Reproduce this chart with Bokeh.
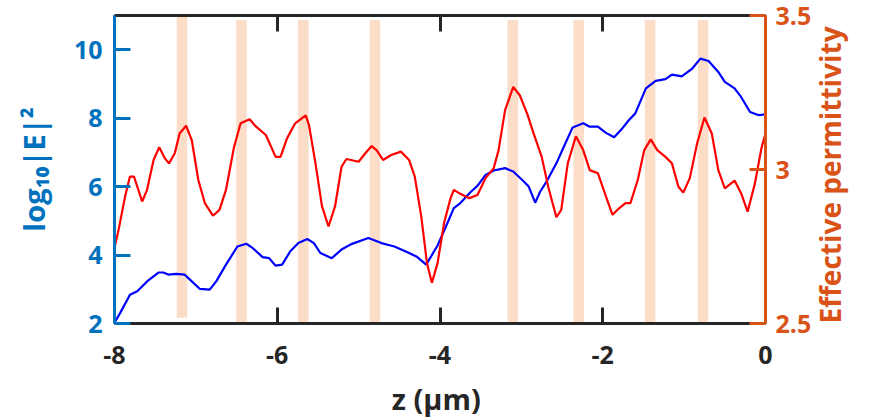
import math
from bokeh.plotting import figure
from bokeh.models import LinearAxis, Range1d, FixedTicker
from bokeh.embed import file_html
from bokeh.resources import INLINE

# ---------------- data ----------------
z_field = [-8.00, -7.93, -7.81, -7.72, -7.60, -7.46, -7.40, -7.34, -7.24, -7.14,
           -7.05, -6.95, -6.83, -6.75, -6.63, -6.49, -6.38, -6.30, -6.18, -6.10,
           -6.02, -5.94, -5.84, -5.74, -5.63, -5.55, -5.47, -5.33, -5.21, -5.09,
           -4.88, -4.72, -4.56, -4.40, -4.29, -4.17, -4.03, -3.91, -3.83, -3.75,
           -3.62, -3.54, -3.44, -3.34, -3.20, -3.10, -2.97, -2.91, -2.83, -2.77,
           -2.69, -2.57, -2.47, -2.37, -2.24, -2.16, -2.06, -1.96, -1.86, -1.76,
           -1.68, -1.60, -1.47, -1.35, -1.23, -1.15, -1.03, -0.90, -0.80, -0.70,
           -0.58, -0.50, -0.38, -0.30, -0.19, -0.09, 0.00]
log_E2 = [2.02, 2.31, 2.84, 2.94, 3.23, 3.49, 3.49, 3.43, 3.45, 3.43,
          3.23, 3.01, 2.99, 3.23, 3.72, 4.25, 4.33, 4.20, 3.94, 3.91,
          3.69, 3.72, 4.11, 4.35, 4.47, 4.35, 4.06, 3.91, 4.16, 4.32,
          4.50, 4.35, 4.25, 4.08, 3.96, 3.72, 4.28, 4.93, 5.37, 5.52,
          5.85, 6.02, 6.34, 6.47, 6.54, 6.44, 6.15, 6.00, 5.53, 5.85,
          6.15, 6.68, 7.21, 7.73, 7.85, 7.75, 7.75, 7.57, 7.44, 7.70,
          7.94, 8.14, 8.87, 9.09, 9.14, 9.27, 9.22, 9.45, 9.74, 9.67,
          9.35, 9.06, 8.87, 8.62, 8.18, 8.09, 8.11]

z_perm = [-8.00, -7.95, -7.87, -7.81, -7.76, -7.66, -7.60, -7.52, -7.45, -7.38,
          -7.33, -7.26, -7.20, -7.12, -7.05, -6.97, -6.89, -6.79, -6.71, -6.63,
          -6.53, -6.45, -6.34, -6.26, -6.14, -6.02, -5.96, -5.88, -5.78, -5.65,
          -5.61, -5.53, -5.45, -5.37, -5.29, -5.21, -5.15, -5.00, -4.92, -4.84,
          -4.78, -4.70, -4.60, -4.48, -4.38, -4.31, -4.23, -4.16, -4.10, -4.03,
          -3.95, -3.87, -3.83, -3.75, -3.64, -3.54, -3.44, -3.34, -3.28, -3.20,
          -3.10, -3.02, -2.93, -2.85, -2.75, -2.67, -2.57, -2.51, -2.43, -2.33,
          -2.24, -2.16, -2.06, -1.96, -1.88, -1.80, -1.72, -1.66, -1.57, -1.49,
          -1.41, -1.33, -1.23, -1.15, -1.07, -1.01, -0.93, -0.84, -0.75, -0.66,
          -0.58, -0.50, -0.38, -0.30, -0.22, -0.13, -0.05, 0.00]
permittivity = [2.745, 2.804, 2.912, 2.977, 2.977, 2.896, 2.934, 3.031, 3.072, 3.036,
                3.020, 3.052, 3.117, 3.142, 3.095, 2.966, 2.891, 2.850, 2.869, 2.934,
                3.074, 3.150, 3.163, 3.139, 3.112, 3.041, 3.041, 3.101, 3.150, 3.176,
                3.144, 3.020, 2.880, 2.815, 2.880, 3.009, 3.034, 3.025, 3.052, 3.076,
                3.063, 3.031, 3.047, 3.058, 3.031, 2.977, 2.847, 2.696, 2.632, 2.696,
                2.826, 2.907, 2.934, 2.921, 2.907, 2.917, 2.972, 3.004, 3.063, 3.193,
                3.268, 3.241, 3.182, 3.117, 3.041, 2.944, 2.845, 2.869, 3.020, 3.108,
                3.063, 2.998, 2.988, 2.912, 2.853, 2.874, 2.891, 2.891, 2.966, 3.063,
                3.098, 3.063, 3.041, 3.020, 2.944, 2.925, 2.972, 3.085, 3.169, 3.117,
                2.998, 2.939, 2.964, 2.923, 2.863, 2.955, 3.069, 3.117]

band_center = [-7.17, -6.44, -5.68, -4.80, -3.105, -2.295, -1.418, -0.767]
band_bottom = [2.17, 2.0, 2.0, 2.0, 2.0, 2.0, 2.0, 2.0]
band_top = [11.0, 10.87, 10.87, 10.87, 10.87, 10.87, 10.87, 10.87]
band_width = 0.13

x_ticks = [-8, -6, -4, -2, 0]
x_tick_labels = ["-8", "-6", "-4", "-2", "0"]
left_ticks = [2, 4, 6, 8, 10]
left_tick_labels = ["2", "4", "6", "8", "10"]
right_ticks = [2.5, 3.0, 3.5]
right_tick_labels = ["2.5", "3", "3.5"]
x_label = "z  (µm)"
left_label = "log₁₀|E|²"
right_label = "Effective permittivity"

# ---------------- style ----------------
FONT = "Open Sans"
BLUE_AX = "#0072BD"
ORANGE_AX = "#D95319"
DARK = "#262626"
BAND = "#FCDDC7"

p = figure(width=871, height=420, x_range=Range1d(-8, 0), y_range=Range1d(2, 11),
           output_backend="svg", toolbar_location=None,
           min_border_left=114, min_border_right=100, min_border_top=15,
           min_border_bottom=96)
p.extra_y_ranges = {"perm": Range1d(2.5, 3.5)}
p.grid.visible = False
p.outline_line_color = None
p.background_fill_color = "white"
p.border_fill_color = "white"

left = [c - band_width / 2 for c in band_center]
right = [c + band_width / 2 for c in band_center]
p.quad(left=left, right=right, bottom=band_bottom, top=band_top,
       fill_color=BAND, line_color=None)

p.line(z_field, log_E2, line_color="#0000FF", line_width=2.2)
p.line(z_perm, permittivity, line_color="#FF0000", line_width=2.2, y_range_name="perm")


def style_axis(ax, color, font_size="25px"):
    ax.axis_line_color = color
    ax.axis_line_width = 3
    ax.major_tick_line_color = color
    ax.major_tick_line_width = 3
    ax.major_tick_in = 16
    ax.major_tick_out = 0
    ax.minor_tick_line_color = None
    ax.major_label_text_color = color
    ax.major_label_text_font = FONT
    ax.major_label_text_font_style = "bold"
    ax.major_label_text_font_size = font_size
    ax.axis_label_text_color = color
    ax.axis_label_text_font = FONT
    ax.axis_label_text_font_style = "bold"
    ax.axis_label_text_font_size = "29px"


# bottom axis
xb = p.xaxis[0]
xb.ticker = FixedTicker(ticks=x_ticks)
xb.major_label_overrides = dict(zip(x_ticks, x_tick_labels))
style_axis(xb, DARK)
xb.axis_label = x_label
xb.major_label_standoff = 22
xb.axis_label_standoff = 12

# top axis (mirror, no labels)
xt = LinearAxis(ticker=FixedTicker(ticks=x_ticks))
xt.major_label_overrides = {t: "" for t in x_ticks}
style_axis(xt, DARK)
xt.major_label_standoff = 0
p.add_layout(xt, "above")

# left axis
yl = p.yaxis[0]
yl.ticker = FixedTicker(ticks=left_ticks)
yl.major_label_overrides = dict(zip(left_ticks, left_tick_labels))
style_axis(yl, BLUE_AX)
yl.axis_label = left_label
yl.major_label_standoff = 12
yl.axis_label_standoff = 18

# right axis (title reads bottom-to-top, starting at the bottom of the axis)
yr = LinearAxis(y_range_name="perm", ticker=FixedTicker(ticks=right_ticks))
yr.major_label_overrides = dict(zip(right_ticks, right_tick_labels))
style_axis(yr, ORANGE_AX)
yr.axis_label = right_label
yr.axis_label_text_font_size = "28px"
yr.major_label_standoff = 10
yr.axis_label_standoff = 16
try:
    yr.axis_label_orientation = math.pi / 2
except Exception:
    pass
try:
    yr.axis_label_align = "start"
except Exception:
    pass
p.add_layout(yr, "right")

open("out.html", "w").write(file_html(p, INLINE))
